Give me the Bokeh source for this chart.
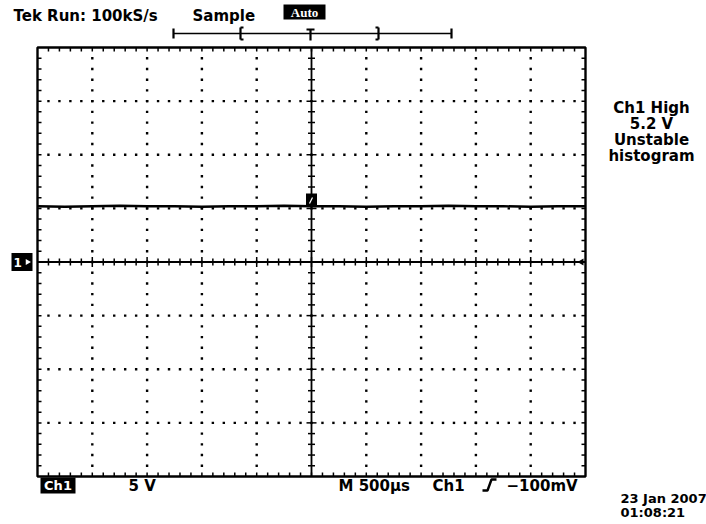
from bokeh.plotting import figure
from bokeh.models import Range1d
from bokeh.core.properties import value
from bokeh.embed import file_html
from bokeh.resources import INLINE

# ---------------- data ----------------
time_ms = [0.0, 0.25, 0.5, 0.75, 1.0, 1.25, 1.5, 1.75, 2.0, 2.25, 2.5,
           2.75, 3.0, 3.25, 3.5, 3.75, 4.0, 4.25, 4.5, 4.75, 5.0]
ch1_volts = [5.2, 5.15, 5.2, 5.25, 5.2, 5.2, 5.15, 5.2, 5.2, 5.25, 5.2,
             5.2, 5.15, 5.2, 5.2, 5.25, 5.2, 5.2, 5.15, 5.2, 5.2]
TIME_PER_DIV_MS = 0.5      # M 500us
VOLTS_PER_DIV = 5.0        # 5 V
N_HDIV = 10
N_VDIV = 8
MINOR_PER_DIV = 5
header_texts = ["Tek Run: 100kS/s", "Sample"]
acq_mode = "Auto"
readout_lines = ["Ch1 High", "5.2 V", "Unstable", "histogram"]
ch_label = "Ch1"
scale_label = "5 V"
bottom_labels = ["M 500\u00b5s", "Ch1", "\u2212100mV"]
date_lines = ["23 Jan 2007", "01:08:21"]

# ---------------- layout ----------------
W, H = 706, 524
OFF = 0
FL, FR, FT, FB = 37, 585, 47, 476   # graticule edges in picture pixels

t_span = N_HDIV * TIME_PER_DIV_MS
v_half = N_VDIV / 2 * VOLTS_PER_DIV
sx = (FR - FL) / t_span
sy = (FB - FT) / (2 * v_half)
x_start = 0 - (FL - OFF) / sx
x_end = t_span + (OFF + W - FR) / sx
y_end = v_half + (FT - OFF) / sy
y_start = -v_half - (OFF + H - FB) / sy


def X(px):
    return x_start + (px - OFF) / sx


def Y(py):
    return y_end - (py - OFF) / sy


def DX(px):
    return px / sx


def DY(py):
    return py / sy


FONT = value("DejaVu Sans")

p = figure(width=W, height=H, output_backend="svg", toolbar_location=None,
           x_range=Range1d(x_start, x_end), y_range=Range1d(y_start, y_end),
           min_border=0, min_border_left=0, min_border_right=0,
           min_border_top=0, min_border_bottom=0)
p.axis.visible = False
p.xgrid.visible = False
p.ygrid.visible = False
p.outline_line_color = None
p.background_fill_color = "white"
p.border_fill_color = "white"

t_step = TIME_PER_DIV_MS / MINOR_PER_DIV
v_step = VOLTS_PER_DIV / MINOR_PER_DIV
t_minor = [k * t_step for k in range(1, N_HDIV * MINOR_PER_DIV)]
v_minor = [-v_half + k * v_step for k in range(1, N_VDIV * MINOR_PER_DIV)]
t_major = [i * TIME_PER_DIV_MS for i in range(1, N_HDIV)]
v_major = [-v_half + j * VOLTS_PER_DIV for j in range(1, N_VDIV)]
t_mid = t_span / 2

# dotted grid
dx_, dy_ = [], []
for t in t_major:
    if abs(t - t_mid) < 1e-9:
        continue
    for v in v_minor:
        dx_.append(t); dy_.append(v)
for v in v_major:
    if abs(v) < 1e-9:
        continue
    for t in t_minor:
        dx_.append(t); dy_.append(v)
p.rect(dx_, dy_, width=2.4, height=2.4, width_units="screen",
       height_units="screen", fill_color="black", line_color=None)

# center cross
p.segment(x0=[0, t_mid], y0=[0, -v_half], x1=[t_span, t_mid], y1=[0, v_half],
          line_color="black", line_width=1.8)
seg = {"x0": [], "y0": [], "x1": [], "y1": []}


def add(x0, y0, x1, y1):
    seg["x0"].append(x0); seg["y0"].append(y0)
    seg["x1"].append(x1); seg["y1"].append(y1)


for k, t in enumerate(t_minor, start=1):
    h = 5 if k % MINOR_PER_DIV == 0 else 3.5
    add(t, -DY(h), t, DY(h))
    add(t, -v_half, t, -v_half + DY(4))
    add(t, v_half, t, v_half - DY(4))
for k, v in enumerate(v_minor, start=1):
    h = 5 if k % MINOR_PER_DIV == 0 else 3.5
    add(t_mid - DX(h), v, t_mid + DX(h), v)
    add(0, v, DX(4), v)
    add(t_span, v, t_span - DX(4), v)
p.segment(x0="x0", y0="y0", x1="x1", y1="y1", source=seg,
          line_color="black", line_width=1.5)

# graticule frame
p.quad(left=[0], right=[t_span], bottom=[-v_half], top=[v_half],
       fill_color=None, line_color="black", line_width=2.4)

# trace
p.line(time_ms, ch1_volts, line_color="black", line_width=2.4)

# trigger-level marker on trace
p.rect([t_mid], [Y(199.5)], width=11, height=13, width_units="screen",
       height_units="screen", fill_color="black", line_color=None)
p.segment([X(309)], [Y(203)], [X(312)], [Y(197)], line_color="white", line_width=1.2)

# right-edge marker
p.scatter([X(581)], [0], marker="triangle", angle=1.5708, size=7,
          fill_color="black", line_color=None)

# ground marker Ch1
p.rect([X(21.5)], [0], width=21, height=18, width_units="screen",
       height_units="screen", fill_color="black", line_color=None)
p.text([X(13)], [0], text=["1"], text_color="white", text_font=FONT,
       text_font_style="bold", text_font_size="12px", text_baseline="middle")
p.scatter([X(27)], [0], marker="triangle", angle=-1.5708, size=6,
          fill_color="white", line_color=None)

# header record bar
hy = Y(33)
p.segment([X(173)], [hy], [X(451)], [hy], line_color="black", line_width=1.4)
bar = {"x0": [X(173), X(451), X(240), X(240), X(240), X(378), X(378), X(378), X(310), X(306)],
       "y0": [Y(28), Y(28), Y(27), Y(27), Y(39), Y(27), Y(27), Y(39), Y(29), Y(29)],
       "x1": [X(173), X(451), X(240), X(243), X(243), X(378), X(375), X(375), X(310), X(314)],
       "y1": [Y(38), Y(38), Y(39), Y(27), Y(39), Y(39), Y(27), Y(39), Y(40), Y(29)]}
p.segment(x0="x0", y0="y0", x1="x1", y1="y1", source=bar,
          line_color="black", line_width=2.2)

# header texts
p.text([X(13), X(192)], [Y(15), Y(15)], text=header_texts, text_font=FONT,
       text_font_style="bold", text_font_size="15px", text_baseline="middle")
p.rect([X(304)], [Y(11.5)], width=42, height=15, width_units="screen",
       height_units="screen", fill_color="black", line_color=None)
p.text([X(304)], [Y(12)], text=[acq_mode], text_color="white", text_font=value("Liberation Serif"),
       text_font_style="bold", text_font_size="13px", text_align="center",
       text_baseline="middle")

# readout block on the right
p.text([X(651)] * 4, [Y(107), Y(123), Y(139), Y(155)], text=readout_lines,
       text_font=FONT, text_font_style="bold", text_font_size="15px",
       text_align="center", text_baseline="middle")

# bottom labels
p.rect([X(57.5)], [Y(485)], width=35, height=16, width_units="screen",
       height_units="screen", fill_color="black", line_color=None)
p.text([X(57.5)], [Y(485)], text=[ch_label], text_color="white", text_font=FONT,
       text_font_style="bold", text_font_size="13px", text_align="center",
       text_baseline="middle")
p.text([X(128)], [Y(485)], text=[scale_label], text_font=FONT,
       text_font_style="bold", text_font_size="15px", text_baseline="middle")
p.text([X(338), X(432), X(506)], [Y(485)] * 3, text=bottom_labels, text_font=FONT,
       text_font_style="bold", text_font_size="15px", text_baseline="middle")
p.line([X(482), X(487), X(491), X(496)], [Y(490), Y(490), Y(479), Y(479)],
       line_color="black", line_width=2.4)

# date / time
p.text([X(620), X(620)], [Y(498), Y(512)], text=date_lines, text_font=FONT,
       text_font_style="bold", text_font_size="13px", text_baseline="middle")

open("out.html", "w").write(file_html(p, INLINE))
